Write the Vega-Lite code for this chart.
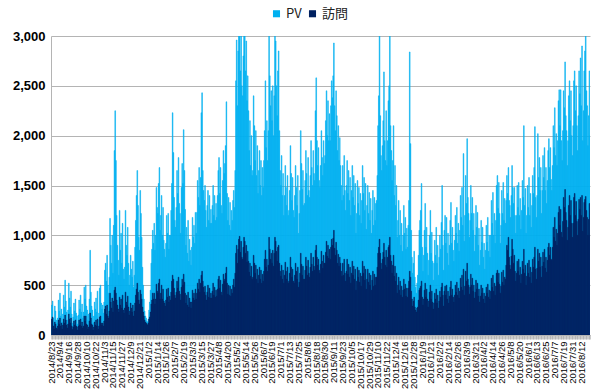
{
"$schema":"https://vega.github.io/schema/vega-lite/v6.json",
"width":539,"height":299,
"autosize":{"type":"none"},
"padding":{"left":51,"top":36,"right":10,"bottom":56},
"background":"white",
"config":{"view":{"stroke":null},"font":"Liberation Sans",
"axisY":{"grid":true,"gridColor":"#B4B4B4","gridWidth":1,"domainColor":"#B4B4B4","tickSize":0,"labelFont":"Liberation Sans","labelFontWeight":"bold","labelFontSize":13,"labelColor":"#000000","labelPadding":6},
"legend":{"orient":"none","legendX":219,"legendY":-29,"direction":"horizontal","symbolType":"square","symbolSize":50,"symbolStrokeWidth":0,"labelFontSize":13,"labelFont":"Noto Sans CJK JP","labelColor":"#222222","columnPadding":4,"labelOffset":3}},
"data":{"values":[
{"d":"2014-08-23","pv":300,"v":160},{"d":"2014-08-24","pv":340,"v":180},{"d":"2014-08-25","pv":170,"v":90},{"d":"2014-08-26","pv":120,"v":60},{"d":"2014-08-27","pv":290,"v":130},{"d":"2014-08-28","pv":240,"v":110},{"d":"2014-08-29","pv":150,"v":70},
{"d":"2014-08-30","pv":120,"v":55},{"d":"2014-08-31","pv":170,"v":90},{"d":"2014-09-01","pv":350,"v":150},{"d":"2014-09-02","pv":240,"v":110},{"d":"2014-09-03","pv":420,"v":170},{"d":"2014-09-04","pv":190,"v":90},{"d":"2014-09-05","pv":260,"v":120},
{"d":"2014-09-06","pv":130,"v":60},{"d":"2014-09-07","pv":210,"v":100},{"d":"2014-09-08","pv":400,"v":160},{"d":"2014-09-09","pv":280,"v":120},{"d":"2014-09-10","pv":550,"v":200},{"d":"2014-09-11","pv":340,"v":150},{"d":"2014-09-12","pv":230,"v":100},
{"d":"2014-09-13","pv":150,"v":70},{"d":"2014-09-14","pv":250,"v":110},{"d":"2014-09-15","pv":520,"v":210},{"d":"2014-09-16","pv":370,"v":160},{"d":"2014-09-17","pv":280,"v":120},{"d":"2014-09-18","pv":440,"v":170},{"d":"2014-09-19","pv":210,"v":90},
{"d":"2014-09-20","pv":120,"v":55},{"d":"2014-09-21","pv":180,"v":80},{"d":"2014-09-22","pv":320,"v":140},{"d":"2014-09-23","pv":240,"v":100},{"d":"2014-09-24","pv":360,"v":150},{"d":"2014-09-25","pv":220,"v":90},{"d":"2014-09-26","pv":190,"v":80},
{"d":"2014-09-27","pv":110,"v":50},{"d":"2014-09-28","pv":200,"v":90},{"d":"2014-09-29","pv":350,"v":150},{"d":"2014-09-30","pv":260,"v":100},{"d":"2014-10-01","pv":400,"v":160},{"d":"2014-10-02","pv":230,"v":90},{"d":"2014-10-03","pv":310,"v":130},
{"d":"2014-10-04","pv":170,"v":70},{"d":"2014-10-05","pv":230,"v":90},{"d":"2014-10-06","pv":480,"v":190},{"d":"2014-10-07","pv":360,"v":140},{"d":"2014-10-08","pv":500,"v":190},{"d":"2014-10-09","pv":290,"v":110},{"d":"2014-10-10","pv":250,"v":100},
{"d":"2014-10-11","pv":150,"v":60},{"d":"2014-10-12","pv":210,"v":80},{"d":"2014-10-13","pv":360,"v":140},{"d":"2014-10-14","pv":850,"v":220},{"d":"2014-10-15","pv":430,"v":170},{"d":"2014-10-16","pv":290,"v":110},{"d":"2014-10-17","pv":250,"v":100},
{"d":"2014-10-18","pv":120,"v":50},{"d":"2014-10-19","pv":190,"v":80},{"d":"2014-10-20","pv":330,"v":130},{"d":"2014-10-21","pv":260,"v":100},{"d":"2014-10-22","pv":370,"v":150},{"d":"2014-10-23","pv":230,"v":90},{"d":"2014-10-24","pv":440,"v":160},
{"d":"2014-10-25","pv":150,"v":60},{"d":"2014-10-26","pv":220,"v":90},{"d":"2014-10-27","pv":470,"v":180},{"d":"2014-10-28","pv":500,"v":190},{"d":"2014-10-29","pv":320,"v":120},{"d":"2014-10-30","pv":260,"v":100},{"d":"2014-10-31","pv":300,"v":120},
{"d":"2014-11-01","pv":220,"v":90},{"d":"2014-11-02","pv":330,"v":140},{"d":"2014-11-03","pv":650,"v":260},{"d":"2014-11-04","pv":720,"v":290},{"d":"2014-11-05","pv":540,"v":210},{"d":"2014-11-06","pv":800,"v":300},{"d":"2014-11-07","pv":500,"v":190},
{"d":"2014-11-08","pv":420,"v":170},{"d":"2014-11-09","pv":580,"v":240},{"d":"2014-11-10","pv":1170,"v":420},{"d":"2014-11-11","pv":900,"v":330},{"d":"2014-11-12","pv":720,"v":270},{"d":"2014-11-13","pv":1000,"v":370},{"d":"2014-11-14","pv":620,"v":230},
{"d":"2014-11-15","pv":1100,"v":340},{"d":"2014-11-16","pv":1850,"v":450},{"d":"2014-11-17","pv":2250,"v":480},{"d":"2014-11-18","pv":1750,"v":420},{"d":"2014-11-19","pv":1200,"v":350},{"d":"2014-11-20","pv":900,"v":300},{"d":"2014-11-21","pv":750,"v":260},
{"d":"2014-11-22","pv":600,"v":230},{"d":"2014-11-23","pv":1250,"v":380},{"d":"2014-11-24","pv":850,"v":300},{"d":"2014-11-25","pv":1020,"v":360},{"d":"2014-11-26","pv":720,"v":270},{"d":"2014-11-27","pv":1120,"v":400},{"d":"2014-11-28","pv":660,"v":250},
{"d":"2014-11-29","pv":560,"v":220},{"d":"2014-11-30","pv":680,"v":270},{"d":"2014-12-01","pv":1250,"v":430},{"d":"2014-12-02","pv":900,"v":330},{"d":"2014-12-03","pv":800,"v":300},{"d":"2014-12-04","pv":1080,"v":390},{"d":"2014-12-05","pv":720,"v":280},
{"d":"2014-12-06","pv":500,"v":200},{"d":"2014-12-07","pv":600,"v":240},{"d":"2014-12-08","pv":800,"v":320},{"d":"2014-12-09","pv":660,"v":270},{"d":"2014-12-10","pv":580,"v":230},{"d":"2014-12-11","pv":740,"v":300},{"d":"2014-12-12","pv":480,"v":190},
{"d":"2014-12-13","pv":600,"v":240},{"d":"2014-12-14","pv":880,"v":320},{"d":"2014-12-15","pv":1150,"v":400},{"d":"2014-12-16","pv":1400,"v":460},{"d":"2014-12-17","pv":1650,"v":520},{"d":"2014-12-18","pv":1300,"v":430},{"d":"2014-12-19","pv":980,"v":350},
{"d":"2014-12-20","pv":850,"v":310},{"d":"2014-12-21","pv":1450,"v":450},{"d":"2014-12-22","pv":1220,"v":410},{"d":"2014-12-23","pv":980,"v":360},{"d":"2014-12-24","pv":680,"v":280},{"d":"2014-12-25","pv":500,"v":230},{"d":"2014-12-26","pv":360,"v":190},
{"d":"2014-12-27","pv":240,"v":150},{"d":"2014-12-28","pv":190,"v":130},{"d":"2014-12-29","pv":170,"v":120},{"d":"2014-12-30","pv":140,"v":110},{"d":"2014-12-31","pv":130,"v":100},{"d":"2015-01-01","pv":160,"v":120},{"d":"2015-01-02","pv":250,"v":160},
{"d":"2015-01-03","pv":330,"v":180},{"d":"2015-01-04","pv":450,"v":230},{"d":"2015-01-05","pv":720,"v":310},{"d":"2015-01-06","pv":860,"v":350},{"d":"2015-01-07","pv":1050,"v":420},{"d":"2015-01-08","pv":920,"v":360},{"d":"2015-01-09","pv":1120,"v":420},
{"d":"2015-01-10","pv":850,"v":310},{"d":"2015-01-11","pv":1000,"v":360},{"d":"2015-01-12","pv":1480,"v":510},{"d":"2015-01-13","pv":1280,"v":440},{"d":"2015-01-14","pv":1220,"v":420},{"d":"2015-01-15","pv":1520,"v":520},{"d":"2015-01-16","pv":1680,"v":560},
{"d":"2015-01-17","pv":1050,"v":360},{"d":"2015-01-18","pv":1200,"v":420},{"d":"2015-01-19","pv":1400,"v":500},{"d":"2015-01-20","pv":1000,"v":360},{"d":"2015-01-21","pv":1280,"v":460},{"d":"2015-01-22","pv":950,"v":340},{"d":"2015-01-23","pv":860,"v":320},
{"d":"2015-01-24","pv":780,"v":290},{"d":"2015-01-25","pv":920,"v":350},{"d":"2015-01-26","pv":1200,"v":460},{"d":"2015-01-27","pv":1020,"v":380},{"d":"2015-01-28","pv":1220,"v":470},{"d":"2015-01-29","pv":860,"v":330},{"d":"2015-01-30","pv":1000,"v":390},
{"d":"2015-01-31","pv":1000,"v":350},{"d":"2015-02-01","pv":1250,"v":430},{"d":"2015-02-02","pv":1520,"v":540},{"d":"2015-02-03","pv":2230,"v":600},{"d":"2015-02-04","pv":1830,"v":560},{"d":"2015-02-05","pv":1380,"v":470},{"d":"2015-02-06","pv":1150,"v":400},
{"d":"2015-02-07","pv":1080,"v":370},{"d":"2015-02-08","pv":1280,"v":430},{"d":"2015-02-09","pv":1650,"v":540},{"d":"2015-02-10","pv":1420,"v":470},{"d":"2015-02-11","pv":1780,"v":580},{"d":"2015-02-12","pv":1320,"v":440},{"d":"2015-02-13","pv":1220,"v":410},
{"d":"2015-02-14","pv":1020,"v":350},{"d":"2015-02-15","pv":1480,"v":480},{"d":"2015-02-16","pv":1720,"v":560},{"d":"2015-02-17","pv":1520,"v":500},{"d":"2015-02-18","pv":2060,"v":610},{"d":"2015-02-19","pv":1650,"v":530},{"d":"2015-02-20","pv":1260,"v":420},
{"d":"2015-02-21","pv":900,"v":320},{"d":"2015-02-22","pv":1080,"v":400},{"d":"2015-02-23","pv":820,"v":300},{"d":"2015-02-24","pv":1150,"v":430},{"d":"2015-02-25","pv":740,"v":280},{"d":"2015-02-26","pv":960,"v":370},{"d":"2015-02-27","pv":850,"v":330},
{"d":"2015-02-28","pv":700,"v":270},{"d":"2015-03-01","pv":880,"v":330},{"d":"2015-03-02","pv":1180,"v":450},{"d":"2015-03-03","pv":980,"v":370},{"d":"2015-03-04","pv":1100,"v":420},{"d":"2015-03-05","pv":920,"v":350},{"d":"2015-03-06","pv":1230,"v":460},
{"d":"2015-03-07","pv":1020,"v":360},{"d":"2015-03-08","pv":1230,"v":420},{"d":"2015-03-09","pv":1550,"v":520},{"d":"2015-03-10","pv":1380,"v":460},{"d":"2015-03-11","pv":1680,"v":560},{"d":"2015-03-12","pv":1300,"v":430},{"d":"2015-03-13","pv":1580,"v":520},
{"d":"2015-03-14","pv":2230,"v":600},{"d":"2015-03-15","pv":2430,"v":640},{"d":"2015-03-16","pv":1650,"v":540},{"d":"2015-03-17","pv":1450,"v":480},{"d":"2015-03-18","pv":1350,"v":430},{"d":"2015-03-19","pv":1500,"v":490},{"d":"2015-03-20","pv":1250,"v":400},
{"d":"2015-03-21","pv":1080,"v":350},{"d":"2015-03-22","pv":1300,"v":430},{"d":"2015-03-23","pv":1450,"v":500},{"d":"2015-03-24","pv":1150,"v":380},{"d":"2015-03-25","pv":1400,"v":470},{"d":"2015-03-26","pv":1120,"v":370},{"d":"2015-03-27","pv":1260,"v":420},
{"d":"2015-03-28","pv":1120,"v":370},{"d":"2015-03-29","pv":1300,"v":440},{"d":"2015-03-30","pv":1500,"v":520},{"d":"2015-03-31","pv":1200,"v":400},{"d":"2015-04-01","pv":1400,"v":480},{"d":"2015-04-02","pv":1150,"v":380},{"d":"2015-04-03","pv":1320,"v":450},
{"d":"2015-04-04","pv":1180,"v":390},{"d":"2015-04-05","pv":1400,"v":460},{"d":"2015-04-06","pv":1650,"v":560},{"d":"2015-04-07","pv":1780,"v":590},{"d":"2015-04-08","pv":1420,"v":470},{"d":"2015-04-09","pv":1680,"v":550},{"d":"2015-04-10","pv":1300,"v":430},
{"d":"2015-04-11","pv":1220,"v":400},{"d":"2015-04-12","pv":1550,"v":510},{"d":"2015-04-13","pv":1850,"v":610},{"d":"2015-04-14","pv":1620,"v":540},{"d":"2015-04-15","pv":1720,"v":560},{"d":"2015-04-16","pv":1900,"v":620},{"d":"2015-04-17","pv":2340,"v":680},
{"d":"2015-04-18","pv":1420,"v":520},{"d":"2015-04-19","pv":1150,"v":410},{"d":"2015-04-20","pv":1380,"v":500},{"d":"2015-04-21","pv":1100,"v":400},{"d":"2015-04-22","pv":1330,"v":490},{"d":"2015-04-23","pv":1050,"v":390},{"d":"2015-04-24","pv":1250,"v":460},
{"d":"2015-04-25","pv":1150,"v":420},{"d":"2015-04-26","pv":1350,"v":500},{"d":"2015-04-27","pv":1450,"v":560},{"d":"2015-04-28","pv":1280,"v":480},{"d":"2015-04-29","pv":1650,"v":620},{"d":"2015-04-30","pv":2550,"v":820},{"d":"2015-05-01","pv":2960,"v":900},
{"d":"2015-05-02","pv":2300,"v":720},{"d":"2015-05-03","pv":2850,"v":860},{"d":"2015-05-04","pv":3150,"v":960},{"d":"2015-05-05","pv":3200,"v":990},{"d":"2015-05-06","pv":2650,"v":830},{"d":"2015-05-07","pv":3100,"v":940},{"d":"2015-05-08","pv":2500,"v":780},
{"d":"2015-05-09","pv":2400,"v":760},{"d":"2015-05-10","pv":2800,"v":880},{"d":"2015-05-11","pv":3200,"v":980},{"d":"2015-05-12","pv":3100,"v":940},{"d":"2015-05-13","pv":2650,"v":820},{"d":"2015-05-14","pv":2950,"v":900},{"d":"2015-05-15","pv":2350,"v":730},
{"d":"2015-05-16","pv":2600,"v":840},{"d":"2015-05-17","pv":2250,"v":740},{"d":"2015-05-18","pv":1850,"v":630},{"d":"2015-05-19","pv":2150,"v":720},{"d":"2015-05-20","pv":1700,"v":590},{"d":"2015-05-21","pv":2000,"v":690},{"d":"2015-05-22","pv":1600,"v":560},
{"d":"2015-05-23","pv":1650,"v":580},{"d":"2015-05-24","pv":2400,"v":800},{"d":"2015-05-25","pv":2100,"v":720},{"d":"2015-05-26","pv":1750,"v":620},{"d":"2015-05-27","pv":2050,"v":700},{"d":"2015-05-28","pv":1600,"v":560},{"d":"2015-05-29","pv":1900,"v":660},
{"d":"2015-05-30","pv":1420,"v":520},{"d":"2015-05-31","pv":1650,"v":600},{"d":"2015-06-01","pv":1850,"v":680},{"d":"2015-06-02","pv":1500,"v":560},{"d":"2015-06-03","pv":1750,"v":650},{"d":"2015-06-04","pv":1400,"v":520},{"d":"2015-06-05","pv":1680,"v":610},
{"d":"2015-06-06","pv":1480,"v":540},{"d":"2015-06-07","pv":1750,"v":640},{"d":"2015-06-08","pv":2050,"v":760},{"d":"2015-06-09","pv":2550,"v":850},{"d":"2015-06-10","pv":1880,"v":680},{"d":"2015-06-11","pv":2150,"v":760},{"d":"2015-06-12","pv":1750,"v":640},
{"d":"2015-06-13","pv":2050,"v":700},{"d":"2015-06-14","pv":3200,"v":980},{"d":"2015-06-15","pv":2600,"v":860},{"d":"2015-06-16","pv":2300,"v":760},{"d":"2015-06-17","pv":2450,"v":820},{"d":"2015-06-18","pv":2150,"v":720},{"d":"2015-06-19","pv":2500,"v":850},
{"d":"2015-06-20","pv":2000,"v":690},{"d":"2015-06-21","pv":2400,"v":820},{"d":"2015-06-22","pv":3100,"v":980},{"d":"2015-06-23","pv":2950,"v":940},{"d":"2015-06-24","pv":2500,"v":840},{"d":"2015-06-25","pv":2200,"v":740},{"d":"2015-06-26","pv":2650,"v":880},
{"d":"2015-06-27","pv":2850,"v":900},{"d":"2015-06-28","pv":2050,"v":720},{"d":"2015-06-29","pv":1650,"v":640},{"d":"2015-06-30","pv":1500,"v":590},{"d":"2015-07-01","pv":1800,"v":700},{"d":"2015-07-02","pv":1400,"v":560},{"d":"2015-07-03","pv":1620,"v":650},
{"d":"2015-07-04","pv":1200,"v":520},{"d":"2015-07-05","pv":1400,"v":600},{"d":"2015-07-06","pv":1700,"v":730},{"d":"2015-07-07","pv":1480,"v":640},{"d":"2015-07-08","pv":1300,"v":560},{"d":"2015-07-09","pv":1600,"v":680},{"d":"2015-07-10","pv":1200,"v":520},
{"d":"2015-07-11","pv":1250,"v":540},{"d":"2015-07-12","pv":1450,"v":620},{"d":"2015-07-13","pv":1900,"v":780},{"d":"2015-07-14","pv":1620,"v":680},{"d":"2015-07-15","pv":1350,"v":580},{"d":"2015-07-16","pv":1580,"v":660},{"d":"2015-07-17","pv":1250,"v":540},
{"d":"2015-07-18","pv":1180,"v":520},{"d":"2015-07-19","pv":1400,"v":600},{"d":"2015-07-20","pv":1700,"v":720},{"d":"2015-07-21","pv":1480,"v":640},{"d":"2015-07-22","pv":1300,"v":560},{"d":"2015-07-23","pv":1600,"v":680},{"d":"2015-07-24","pv":1020,"v":480},
{"d":"2015-07-25","pv":1220,"v":530},{"d":"2015-07-26","pv":1450,"v":620},{"d":"2015-07-27","pv":2050,"v":820},{"d":"2015-07-28","pv":1720,"v":710},{"d":"2015-07-29","pv":1460,"v":600},{"d":"2015-07-30","pv":1650,"v":690},{"d":"2015-07-31","pv":1300,"v":560},
{"d":"2015-08-01","pv":1320,"v":560},{"d":"2015-08-02","pv":1550,"v":650},{"d":"2015-08-03","pv":1850,"v":780},{"d":"2015-08-04","pv":1620,"v":690},{"d":"2015-08-05","pv":1400,"v":600},{"d":"2015-08-06","pv":1780,"v":750},{"d":"2015-08-07","pv":1450,"v":620},
{"d":"2015-08-08","pv":1380,"v":580},{"d":"2015-08-09","pv":1600,"v":680},{"d":"2015-08-10","pv":1950,"v":820},{"d":"2015-08-11","pv":1680,"v":710},{"d":"2015-08-12","pv":1500,"v":640},{"d":"2015-08-13","pv":1850,"v":780},{"d":"2015-08-14","pv":1620,"v":690},
{"d":"2015-08-15","pv":1550,"v":650},{"d":"2015-08-16","pv":2250,"v":850},{"d":"2015-08-17","pv":2580,"v":900},{"d":"2015-08-18","pv":1950,"v":780},{"d":"2015-08-19","pv":1700,"v":700},{"d":"2015-08-20","pv":1880,"v":760},{"d":"2015-08-21","pv":1550,"v":650},
{"d":"2015-08-22","pv":1480,"v":620},{"d":"2015-08-23","pv":1700,"v":710},{"d":"2015-08-24","pv":2050,"v":840},{"d":"2015-08-25","pv":1780,"v":740},{"d":"2015-08-26","pv":1600,"v":670},{"d":"2015-08-27","pv":1950,"v":800},{"d":"2015-08-28","pv":1720,"v":720},
{"d":"2015-08-29","pv":1800,"v":720},{"d":"2015-08-30","pv":2150,"v":830},{"d":"2015-08-31","pv":2450,"v":940},{"d":"2015-09-01","pv":2000,"v":790},{"d":"2015-09-02","pv":2350,"v":900},{"d":"2015-09-03","pv":1950,"v":770},{"d":"2015-09-04","pv":2220,"v":860},
{"d":"2015-09-05","pv":1950,"v":760},{"d":"2015-09-06","pv":2300,"v":880},{"d":"2015-09-07","pv":2550,"v":960},{"d":"2015-09-08","pv":2380,"v":900},{"d":"2015-09-09","pv":2600,"v":970},{"d":"2015-09-10","pv":2930,"v":1050},{"d":"2015-09-11","pv":2300,"v":870},
{"d":"2015-09-12","pv":2050,"v":800},{"d":"2015-09-13","pv":2450,"v":930},{"d":"2015-09-14","pv":2200,"v":850},{"d":"2015-09-15","pv":1850,"v":720},{"d":"2015-09-16","pv":2100,"v":810},{"d":"2015-09-17","pv":1750,"v":690},{"d":"2015-09-18","pv":1980,"v":780},
{"d":"2015-09-19","pv":1700,"v":720},{"d":"2015-09-20","pv":1500,"v":640},{"d":"2015-09-21","pv":1350,"v":590},{"d":"2015-09-22","pv":1700,"v":720},{"d":"2015-09-23","pv":1400,"v":600},{"d":"2015-09-24","pv":1800,"v":760},{"d":"2015-09-25","pv":1450,"v":620},
{"d":"2015-09-26","pv":1250,"v":540},{"d":"2015-09-27","pv":1500,"v":640},{"d":"2015-09-28","pv":1750,"v":760},{"d":"2015-09-29","pv":1420,"v":610},{"d":"2015-09-30","pv":1650,"v":710},{"d":"2015-10-01","pv":1350,"v":580},{"d":"2015-10-02","pv":1580,"v":680},
{"d":"2015-10-03","pv":1200,"v":520},{"d":"2015-10-04","pv":1450,"v":620},{"d":"2015-10-05","pv":1700,"v":740},{"d":"2015-10-06","pv":1380,"v":600},{"d":"2015-10-07","pv":1600,"v":690},{"d":"2015-10-08","pv":1300,"v":560},{"d":"2015-10-09","pv":1520,"v":660},
{"d":"2015-10-10","pv":1020,"v":450},{"d":"2015-10-11","pv":1220,"v":540},{"d":"2015-10-12","pv":1550,"v":680},{"d":"2015-10-13","pv":1320,"v":580},{"d":"2015-10-14","pv":1480,"v":650},{"d":"2015-10-15","pv":1200,"v":530},{"d":"2015-10-16","pv":1420,"v":620},
{"d":"2015-10-17","pv":1120,"v":490},{"d":"2015-10-18","pv":1350,"v":590},{"d":"2015-10-19","pv":1700,"v":740},{"d":"2015-10-20","pv":1420,"v":620},{"d":"2015-10-21","pv":1580,"v":690},{"d":"2015-10-22","pv":1250,"v":550},{"d":"2015-10-23","pv":1520,"v":660},
{"d":"2015-10-24","pv":1060,"v":460},{"d":"2015-10-25","pv":1300,"v":560},{"d":"2015-10-26","pv":1500,"v":660},{"d":"2015-10-27","pv":1220,"v":530},{"d":"2015-10-28","pv":1430,"v":620},{"d":"2015-10-29","pv":1150,"v":500},{"d":"2015-10-30","pv":1370,"v":600},
{"d":"2015-10-31","pv":1020,"v":450},{"d":"2015-11-01","pv":1250,"v":550},{"d":"2015-11-02","pv":1450,"v":640},{"d":"2015-11-03","pv":1100,"v":490},{"d":"2015-11-04","pv":1380,"v":610},{"d":"2015-11-05","pv":1150,"v":500},{"d":"2015-11-06","pv":1320,"v":580},
{"d":"2015-11-07","pv":1350,"v":580},{"d":"2015-11-08","pv":1600,"v":680},{"d":"2015-11-09","pv":2100,"v":820},{"d":"2015-11-10","pv":2400,"v":880},{"d":"2015-11-11","pv":3100,"v":960},{"d":"2015-11-12","pv":2200,"v":820},{"d":"2015-11-13","pv":1800,"v":720},
{"d":"2015-11-14","pv":1650,"v":660},{"d":"2015-11-15","pv":1900,"v":760},{"d":"2015-11-16","pv":2150,"v":830},{"d":"2015-11-17","pv":2640,"v":920},{"d":"2015-11-18","pv":1950,"v":780},{"d":"2015-11-19","pv":1750,"v":700},{"d":"2015-11-20","pv":2250,"v":850},
{"d":"2015-11-21","pv":1700,"v":680},{"d":"2015-11-22","pv":1950,"v":780},{"d":"2015-11-23","pv":2350,"v":880},{"d":"2015-11-24","pv":2500,"v":900},{"d":"2015-11-25","pv":3100,"v":980},{"d":"2015-11-26","pv":2100,"v":800},{"d":"2015-11-27","pv":1850,"v":740},
{"d":"2015-11-28","pv":1550,"v":620},{"d":"2015-11-29","pv":1750,"v":700},{"d":"2015-11-30","pv":2100,"v":800},{"d":"2015-12-01","pv":1400,"v":590},{"d":"2015-12-02","pv":1700,"v":690},{"d":"2015-12-03","pv":1300,"v":540},{"d":"2015-12-04","pv":1500,"v":620},
{"d":"2015-12-05","pv":980,"v":420},{"d":"2015-12-06","pv":1150,"v":500},{"d":"2015-12-07","pv":1350,"v":580},{"d":"2015-12-08","pv":1000,"v":450},{"d":"2015-12-09","pv":1250,"v":540},{"d":"2015-12-10","pv":900,"v":400},{"d":"2015-12-11","pv":1120,"v":490},
{"d":"2015-12-12","pv":840,"v":380},{"d":"2015-12-13","pv":1000,"v":450},{"d":"2015-12-14","pv":1300,"v":560},{"d":"2015-12-15","pv":1020,"v":460},{"d":"2015-12-16","pv":1180,"v":510},{"d":"2015-12-17","pv":860,"v":390},{"d":"2015-12-18","pv":1070,"v":470},
{"d":"2015-12-19","pv":880,"v":380},{"d":"2015-12-20","pv":1100,"v":470},{"d":"2015-12-21","pv":1350,"v":540},{"d":"2015-12-22","pv":2840,"v":640},{"d":"2015-12-23","pv":1920,"v":580},{"d":"2015-12-24","pv":1050,"v":440},{"d":"2015-12-25","pv":780,"v":360},
{"d":"2015-12-26","pv":620,"v":290},{"d":"2015-12-27","pv":720,"v":340},{"d":"2015-12-28","pv":840,"v":380},{"d":"2015-12-29","pv":580,"v":280},{"d":"2015-12-30","pv":480,"v":250},{"d":"2015-12-31","pv":420,"v":230},{"d":"2016-01-01","pv":520,"v":270},
{"d":"2016-01-02","pv":600,"v":280},{"d":"2016-01-03","pv":800,"v":350},{"d":"2016-01-04","pv":1050,"v":450},{"d":"2016-01-05","pv":1150,"v":470},{"d":"2016-01-06","pv":1250,"v":490},{"d":"2016-01-07","pv":1520,"v":540},{"d":"2016-01-08","pv":880,"v":380},
{"d":"2016-01-09","pv":640,"v":300},{"d":"2016-01-10","pv":800,"v":360},{"d":"2016-01-11","pv":1050,"v":450},{"d":"2016-01-12","pv":1320,"v":520},{"d":"2016-01-13","pv":880,"v":380},{"d":"2016-01-14","pv":1080,"v":460},{"d":"2016-01-15","pv":820,"v":360},
{"d":"2016-01-16","pv":600,"v":280},{"d":"2016-01-17","pv":750,"v":340},{"d":"2016-01-18","pv":1000,"v":430},{"d":"2016-01-19","pv":1250,"v":500},{"d":"2016-01-20","pv":820,"v":360},{"d":"2016-01-21","pv":1030,"v":440},{"d":"2016-01-22","pv":740,"v":330},
{"d":"2016-01-23","pv":550,"v":260},{"d":"2016-01-24","pv":720,"v":320},{"d":"2016-01-25","pv":950,"v":420},{"d":"2016-01-26","pv":800,"v":360},{"d":"2016-01-27","pv":1080,"v":460},{"d":"2016-01-28","pv":720,"v":320},{"d":"2016-01-29","pv":900,"v":400},
{"d":"2016-01-30","pv":600,"v":270},{"d":"2016-01-31","pv":780,"v":340},{"d":"2016-02-01","pv":1000,"v":440},{"d":"2016-02-02","pv":860,"v":380},{"d":"2016-02-03","pv":1130,"v":480},{"d":"2016-02-04","pv":1500,"v":520},{"d":"2016-02-05","pv":900,"v":400},
{"d":"2016-02-06","pv":650,"v":290},{"d":"2016-02-07","pv":1050,"v":440},{"d":"2016-02-08","pv":1200,"v":490},{"d":"2016-02-09","pv":920,"v":400},{"d":"2016-02-10","pv":1180,"v":500},{"d":"2016-02-11","pv":820,"v":360},{"d":"2016-02-12","pv":1020,"v":440},
{"d":"2016-02-13","pv":700,"v":320},{"d":"2016-02-14","pv":900,"v":390},{"d":"2016-02-15","pv":1150,"v":480},{"d":"2016-02-16","pv":1330,"v":540},{"d":"2016-02-17","pv":920,"v":400},{"d":"2016-02-18","pv":1080,"v":460},{"d":"2016-02-19","pv":850,"v":380},
{"d":"2016-02-20","pv":740,"v":330},{"d":"2016-02-21","pv":950,"v":400},{"d":"2016-02-22","pv":1200,"v":500},{"d":"2016-02-23","pv":1020,"v":430},{"d":"2016-02-24","pv":1280,"v":530},{"d":"2016-02-25","pv":920,"v":400},{"d":"2016-02-26","pv":1120,"v":470},
{"d":"2016-02-27","pv":840,"v":370},{"d":"2016-02-28","pv":1050,"v":440},{"d":"2016-02-29","pv":1400,"v":570},{"d":"2016-03-01","pv":1180,"v":480},{"d":"2016-03-02","pv":1480,"v":600},{"d":"2016-03-03","pv":1100,"v":450},{"d":"2016-03-04","pv":1820,"v":660},
{"d":"2016-03-05","pv":940,"v":400},{"d":"2016-03-06","pv":1200,"v":490},{"d":"2016-03-07","pv":1600,"v":640},{"d":"2016-03-08","pv":1320,"v":540},{"d":"2016-03-09","pv":1970,"v":720},{"d":"2016-03-10","pv":1380,"v":560},{"d":"2016-03-11","pv":1220,"v":500},
{"d":"2016-03-12","pv":980,"v":410},{"d":"2016-03-13","pv":1150,"v":480},{"d":"2016-03-14","pv":1500,"v":610},{"d":"2016-03-15","pv":1220,"v":500},{"d":"2016-03-16","pv":1380,"v":570},{"d":"2016-03-17","pv":1050,"v":440},{"d":"2016-03-18","pv":1220,"v":500},
{"d":"2016-03-19","pv":840,"v":370},{"d":"2016-03-20","pv":1000,"v":430},{"d":"2016-03-21","pv":1300,"v":550},{"d":"2016-03-22","pv":1080,"v":460},{"d":"2016-03-23","pv":1230,"v":520},{"d":"2016-03-24","pv":900,"v":390},{"d":"2016-03-25","pv":1070,"v":460},
{"d":"2016-03-26","pv":700,"v":330},{"d":"2016-03-27","pv":850,"v":390},{"d":"2016-03-28","pv":1150,"v":500},{"d":"2016-03-29","pv":930,"v":420},{"d":"2016-03-30","pv":1080,"v":470},{"d":"2016-03-31","pv":780,"v":360},{"d":"2016-04-01","pv":920,"v":420},
{"d":"2016-04-02","pv":660,"v":320},{"d":"2016-04-03","pv":850,"v":390},{"d":"2016-04-04","pv":1100,"v":480},{"d":"2016-04-05","pv":930,"v":420},{"d":"2016-04-06","pv":1180,"v":510},{"d":"2016-04-07","pv":840,"v":380},{"d":"2016-04-08","pv":1000,"v":450},
{"d":"2016-04-09","pv":780,"v":360},{"d":"2016-04-10","pv":1000,"v":440},{"d":"2016-04-11","pv":1350,"v":570},{"d":"2016-04-12","pv":1120,"v":480},{"d":"2016-04-13","pv":1430,"v":600},{"d":"2016-04-14","pv":1000,"v":440},{"d":"2016-04-15","pv":1220,"v":520},
{"d":"2016-04-16","pv":920,"v":400},{"d":"2016-04-17","pv":1150,"v":490},{"d":"2016-04-18","pv":1500,"v":620},{"d":"2016-04-19","pv":1600,"v":650},{"d":"2016-04-20","pv":1270,"v":530},{"d":"2016-04-21","pv":1530,"v":620},{"d":"2016-04-22","pv":1220,"v":510},
{"d":"2016-04-23","pv":920,"v":420},{"d":"2016-04-24","pv":1100,"v":490},{"d":"2016-04-25","pv":1450,"v":630},{"d":"2016-04-26","pv":1220,"v":530},{"d":"2016-04-27","pv":1530,"v":650},{"d":"2016-04-28","pv":1150,"v":500},{"d":"2016-04-29","pv":1370,"v":580},
{"d":"2016-04-30","pv":1120,"v":560},{"d":"2016-05-01","pv":1350,"v":700},{"d":"2016-05-02","pv":1600,"v":900},{"d":"2016-05-03","pv":1420,"v":850},{"d":"2016-05-04","pv":1680,"v":980},{"d":"2016-05-05","pv":1350,"v":780},{"d":"2016-05-06","pv":1300,"v":700},
{"d":"2016-05-07","pv":1180,"v":660},{"d":"2016-05-08","pv":1400,"v":790},{"d":"2016-05-09","pv":1700,"v":960},{"d":"2016-05-10","pv":1480,"v":860},{"d":"2016-05-11","pv":1320,"v":720},{"d":"2016-05-12","pv":1480,"v":800},{"d":"2016-05-13","pv":1200,"v":640},
{"d":"2016-05-14","pv":1020,"v":540},{"d":"2016-05-15","pv":1200,"v":620},{"d":"2016-05-16","pv":1500,"v":740},{"d":"2016-05-17","pv":1280,"v":640},{"d":"2016-05-18","pv":1530,"v":760},{"d":"2016-05-19","pv":1200,"v":600},{"d":"2016-05-20","pv":1370,"v":680},
{"d":"2016-05-21","pv":1060,"v":520},{"d":"2016-05-22","pv":1250,"v":610},{"d":"2016-05-23","pv":1550,"v":740},{"d":"2016-05-24","pv":1380,"v":660},{"d":"2016-05-25","pv":2100,"v":860},{"d":"2016-05-26","pv":1300,"v":620},{"d":"2016-05-27","pv":1470,"v":700},
{"d":"2016-05-28","pv":1020,"v":500},{"d":"2016-05-29","pv":1200,"v":590},{"d":"2016-05-30","pv":1500,"v":720},{"d":"2016-05-31","pv":1280,"v":620},{"d":"2016-06-01","pv":1580,"v":750},{"d":"2016-06-02","pv":1200,"v":580},{"d":"2016-06-03","pv":1420,"v":680},
{"d":"2016-06-04","pv":1080,"v":520},{"d":"2016-06-05","pv":1300,"v":630},{"d":"2016-06-06","pv":1600,"v":760},{"d":"2016-06-07","pv":1420,"v":680},{"d":"2016-06-08","pv":1680,"v":780},{"d":"2016-06-09","pv":2090,"v":880},{"d":"2016-06-10","pv":1380,"v":660},
{"d":"2016-06-11","pv":1180,"v":560},{"d":"2016-06-12","pv":1400,"v":670},{"d":"2016-06-13","pv":2020,"v":860},{"d":"2016-06-14","pv":1580,"v":740},{"d":"2016-06-15","pv":1780,"v":820},{"d":"2016-06-16","pv":1450,"v":680},{"d":"2016-06-17","pv":1680,"v":780},
{"d":"2016-06-18","pv":1220,"v":580},{"d":"2016-06-19","pv":1450,"v":690},{"d":"2016-06-20","pv":1800,"v":830},{"d":"2016-06-21","pv":1580,"v":730},{"d":"2016-06-22","pv":1880,"v":860},{"d":"2016-06-23","pv":1450,"v":670},{"d":"2016-06-24","pv":1680,"v":780},
{"d":"2016-06-25","pv":1320,"v":630},{"d":"2016-06-26","pv":1550,"v":750},{"d":"2016-06-27","pv":1850,"v":880},{"d":"2016-06-28","pv":1970,"v":920},{"d":"2016-06-29","pv":1680,"v":800},{"d":"2016-06-30","pv":1880,"v":880},{"d":"2016-07-01","pv":1560,"v":760},
{"d":"2016-07-02","pv":1450,"v":750},{"d":"2016-07-03","pv":1700,"v":880},{"d":"2016-07-04","pv":2100,"v":1080},{"d":"2016-07-05","pv":1880,"v":980},{"d":"2016-07-06","pv":2280,"v":1180},{"d":"2016-07-07","pv":1800,"v":940},{"d":"2016-07-08","pv":2020,"v":1060},
{"d":"2016-07-09","pv":1700,"v":900},{"d":"2016-07-10","pv":1950,"v":1020},{"d":"2016-07-11","pv":2350,"v":1230},{"d":"2016-07-12","pv":2460,"v":1290},{"d":"2016-07-13","pv":2100,"v":1100},{"d":"2016-07-14","pv":2460,"v":1260},{"d":"2016-07-15","pv":1950,"v":1030},
{"d":"2016-07-16","pv":1750,"v":980},{"d":"2016-07-17","pv":2050,"v":1140},{"d":"2016-07-18","pv":2450,"v":1380},{"d":"2016-07-19","pv":2280,"v":1280},{"d":"2016-07-20","pv":2740,"v":1460},{"d":"2016-07-21","pv":2200,"v":1230},{"d":"2016-07-22","pv":2050,"v":1150},
{"d":"2016-07-23","pv":1700,"v":950},{"d":"2016-07-24","pv":1950,"v":1080},{"d":"2016-07-25","pv":2400,"v":1300},{"d":"2016-07-26","pv":2550,"v":1400},{"d":"2016-07-27","pv":2150,"v":1200},{"d":"2016-07-28","pv":2450,"v":1350},{"d":"2016-07-29","pv":2000,"v":1120},
{"d":"2016-07-30","pv":1800,"v":980},{"d":"2016-07-31","pv":2100,"v":1120},{"d":"2016-08-01","pv":2550,"v":1380},{"d":"2016-08-02","pv":2650,"v":1420},{"d":"2016-08-03","pv":2250,"v":1200},{"d":"2016-08-04","pv":2500,"v":1340},{"d":"2016-08-05","pv":2100,"v":1140},
{"d":"2016-08-06","pv":1850,"v":1000},{"d":"2016-08-07","pv":2200,"v":1160},{"d":"2016-08-08","pv":2650,"v":1360},{"d":"2016-08-09","pv":2420,"v":1260},{"d":"2016-08-10","pv":2780,"v":1380},{"d":"2016-08-11","pv":2300,"v":1200},{"d":"2016-08-12","pv":2900,"v":1400},
{"d":"2016-08-13","pv":1950,"v":1040},{"d":"2016-08-14","pv":2250,"v":1180},{"d":"2016-08-15","pv":2650,"v":1330},{"d":"2016-08-16","pv":2850,"v":1360},{"d":"2016-08-17","pv":3050,"v":1390},{"d":"2016-08-18","pv":2450,"v":1250},{"d":"2016-08-19","pv":2300,"v":1180},
{"d":"2016-08-20","pv":1900,"v":1000},{"d":"2016-08-21","pv":2200,"v":1160},{"d":"2016-08-22","pv":2650,"v":1320},{"d":"2016-08-23","pv":2000,"v":1000}
]},
"encoding":{
"x":{"field":"d","type":"temporal","timeUnit":"utcyearmonthdate","title":null,
"scale":{"type":"utc","nice":false,"padding":0},
"axis":{"tickCount":{"interval":"day","step":1},"grid":false,"domainColor":"#B4B4B4","tickColor":"#A8A8A8","tickSize":4,"tickWidth":0.6,"labelAngle":270,"labelAlign":"right","labelBaseline":"middle","labelPadding":2,"labelFontSize":9.5,"labelFont":"Liberation Sans","labelColor":"#000000","labelOverlap":false,"labelBound":false,"labelFlush":false,
"labelExpr":"(datum.value < utc(2016,7,20) && round((datum.value - utc(2014,7,23))/86400000) % 12 == 0) ? utcFormat(datum.value, '%Y/%-m/%-d') : ''"}}
},
"layer":[
{"mark":{"type":"bar","clip":true,"binSpacing":0,"stroke":"#00B0F0","strokeWidth":0.5},
 "encoding":{"y":{"field":"pv","type":"quantitative","scale":{"domain":[0,3000],"nice":false},"axis":{"title":null,"format":",.0f","values":[0,500,1000,1500,2000,2500,3000]}},
 "color":{"datum":"PV","type":"nominal","scale":{"domain":["PV","訪問"],"range":["#00B0F0","#002060"]},"legend":{"title":null}}}},
{"mark":{"type":"bar","clip":true,"binSpacing":0,"stroke":"#002060","strokeWidth":0.5},
 "encoding":{"y":{"field":"v","type":"quantitative","scale":{"domain":[0,3000],"nice":false},"axis":{"title":null,"format":",.0f","values":[0,500,1000,1500,2000,2500,3000]}},
 "color":{"datum":"訪問","type":"nominal","scale":{"domain":["PV","訪問"],"range":["#00B0F0","#002060"]},"legend":{"title":null}}}}
]
}
